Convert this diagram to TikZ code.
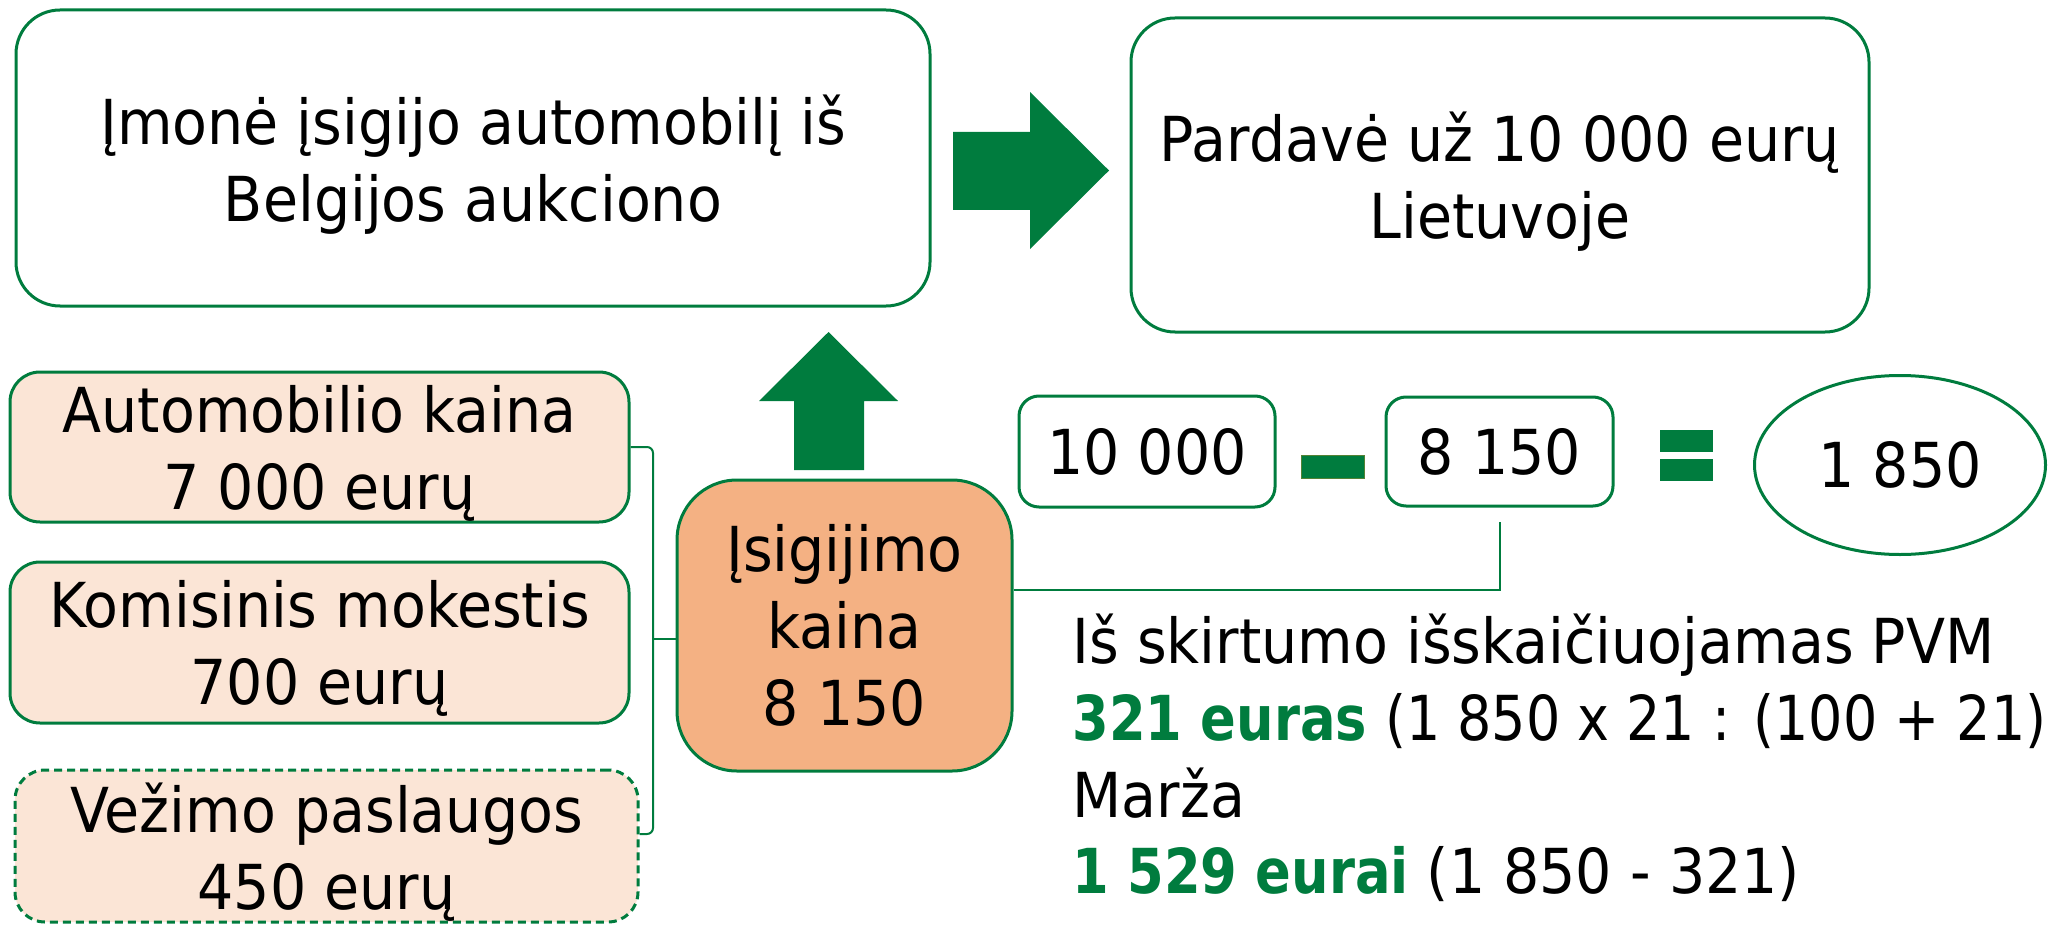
\documentclass[tikz,border=0pt]{standalone}
\usepackage{fontspec}
\setmainfont{DejaVu Sans}[FakeStretch=0.92]
\newfontfamily\narrowbold{DejaVu Sans}[FakeStretch=0.85]
\newfontfamily\narrowreg{DejaVu Sans}[FakeStretch=0.87]
\usepackage{tikz}
\usetikzlibrary{positioning,calc,shapes.geometric}
\definecolor{vgreen}{RGB}{0,124,62}
\definecolor{peach}{RGB}{251,229,214}
\definecolor{apricot}{RGB}{244,177,131}
\definecolor{olivegreen}{RGB}{84,130,53}
\tikzset{
  txt/.style={font=\fontsize{31}{38.5}\selectfont, align=center},
  bigbox/.style={txt, draw=vgreen, line width=1.5pt, rounded corners=22pt, text depth=0pt},
  itembox/.style={txt, draw=vgreen, line width=1.5pt, fill=peach, rounded corners=15pt, text depth=0pt},
  numbox/.style={txt, draw=vgreen, line width=1.5pt, rounded corners=10pt},
  conn/.style={draw=vgreen, line width=1pt},
  fat/.style={fill=vgreen, draw=none}
}
\newcommand{\hl}[1]{\textcolor{vgreen}{\narrowbold\bfseries #1}}
\begin{document}
\begin{tikzpicture}[x=0.5pt,y=-0.5pt]
    \useasboundingbox (0,0) rectangle (2048,925);
    % top row
    \node[bigbox, minimum width=457pt, minimum height=148pt] (buy) at (473,158)
      {Įmonė įsigijo automobilį iš\\Belgijos aukciono};
    \node[bigbox, minimum width=369pt, minimum height=157pt] (sell) at (1500,175)
      {Pardavė už 10 000 eurų\\Lietuvoje};
    \fill[fat] (953,132) -- (1030,132) -- (1030,92) -- (1109,170.5)
      -- (1030,249) -- (1030,210) -- (953,210) -- cycle;
    % cost items
    \node[itembox, minimum width=309.5pt, minimum height=75pt] (car) at (319.5,447)
      {Automobilio kaina\\7 000 eurų};
    \node[itembox, minimum width=309.5pt, minimum height=80.5pt] (fee) at (319.5,642.5)
      {Komisinis mokestis\\700 eurų};
    \node[itembox, dash pattern=on 4pt off 2.5pt, minimum width=311.5pt, minimum height=76pt] (haul) at (326.5,846)
      {Vežimo paslaugos\\450 eurų};
    \node[txt, draw=vgreen, line width=1.5pt, fill=apricot, rounded corners=30pt,
      minimum width=167.5pt, minimum height=145.5pt] (cost) at (844.5,625.5)
      {Įsigijimo\\kaina\\8 150};
    \fill[fat] (794,470) -- (794,401) -- (759,401) -- (828.5,332)
      -- (898,401) -- (864,401) -- (864,470) -- cycle;
    \coordinate (brace) at (653,639);
    \draw[conn, rounded corners=3pt] (car.east) -| (brace) |- ([yshift=6pt]haul.east);
    \draw[conn] (brace) -- (cost.west |- brace);
    % difference
    \node[numbox, minimum width=128pt, minimum height=55.5pt] (gross) at (1147,451.5) {10 000};
    \node[numbox, minimum width=113.5pt, minimum height=54.5pt] (sub) at (1499.5,451.5) {8 150};
    \node[txt, ellipse, draw=vgreen, line width=1.5pt, inner sep=0pt,
      minimum width=145.5pt, minimum height=89.5pt] (diff) at (1900,465) {1 850};
    \filldraw[fill=vgreen, draw=olivegreen, line width=0.5pt] (1301,455) rectangle (1364,478);
    \fill[fat] (1660,430) rectangle (1713,452);
    \fill[fat] (1660,459) rectangle (1713,481);
    \draw[conn] ([yshift=18pt]cost.east) -| ([yshift=-7pt]sub.south);
    % explanation
    \node[txt, anchor=base west, inner sep=0pt] (l1) at (1072,663) {Iš skirtumo išskaičiuojamas PVM};
    \node[txt, anchor=base west, inner sep=0pt] (l2) at (1072,740)
      {\hl{321 euras} {\narrowreg (1 850 x 21 : (100 + 21)}};
    \node[txt, anchor=base west, inner sep=0pt] (l3) at (1072,817) {Marža};
    \node[txt, anchor=base west, inner sep=0pt] (l4) at (1072,893)
      {\hl{1 529 eurai} (1 850 - 321)};
\end{tikzpicture}
\end{document}
